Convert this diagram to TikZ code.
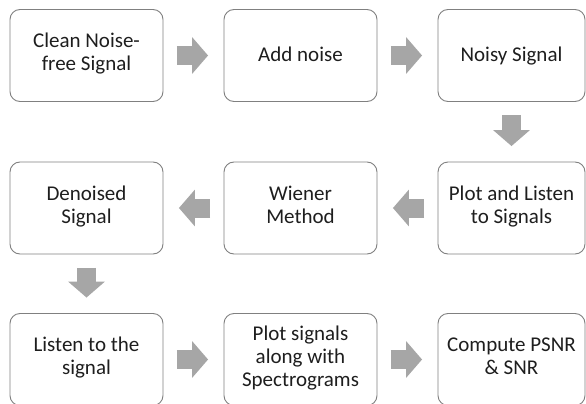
\documentclass[tikz,border=0pt]{standalone}
\usepackage{fontspec}
\setmainfont{Carlito}
\usetikzlibrary{arrows.meta}
\definecolor{boxline}{HTML}{808080}
\definecolor{arrowfill}{HTML}{A6A6A6}
\definecolor{textcol}{HTML}{1E1E1E}
\tikzset{
  stepbox/.style={draw=boxline, line width=0.9pt, rounded corners=10pt, fill=white,
    minimum width=153pt, minimum height=92pt, align=center, inner sep=0pt,
    text=textcol, font=\fontsize{21pt}{23pt}\selectfont,
    execute at begin node={\rule{0pt}{19.5pt}}, execute at end node=\strut},
  narrowbox/.style={stepbox, minimum width=147pt},
  blockarrow/.style={draw=arrowfill, line width=19pt,
    -{Triangle[length=16pt, width=36pt, fill=arrowfill]},
    shorten <=13.5pt, shorten >=15.5pt}
}
\begin{document}
\begin{tikzpicture}[x=1pt, y=-1pt]
  \clip (0,0) rectangle (586,404);
  \fill[white] (0,0) rectangle (586,404);

  % first row
  \node[stepbox]   (clean)   at (86.5,55.5)  {Clean Noise-\\free Signal};
  \node[stepbox]   (add)     at (300.5,55.5) {Add noise};
  \node[narrowbox] (noisy)   at (511.5,55.5) {Noisy Signal};

  % second row
  \node[stepbox]   (denoised) at (86.5,208)  {Denoised\\Signal};
  \node[stepbox]   (wiener)   at (300.5,208) {Wiener\\Method};
  \node[narrowbox] (plotlist) at (511.5,208) {Plot and Listen\\to Signals};

  % third row
  \node[stepbox]   (listen)  at (86.5,359.5)  {Listen to the\\signal};
  \node[stepbox]   (spec)    at (300.5,359.5) {Plot signals\\along with\\Spectrograms};
  \node[narrowbox] (psnr)    at (511.5,359.5) {Compute PSNR\\\& SNR};

  % flow arrows
  \draw[blockarrow] (clean) -- (add);
  \draw[blockarrow] (add) -- (noisy);
  \draw[blockarrow] (noisy) -- (plotlist);
  \draw[blockarrow] (plotlist) -- (wiener);
  \draw[blockarrow] (wiener) -- (denoised);
  \draw[blockarrow] (denoised) -- (listen);
  \draw[blockarrow] (listen) -- (spec);
  \draw[blockarrow] (spec) -- (psnr);
\end{tikzpicture}
\end{document}
